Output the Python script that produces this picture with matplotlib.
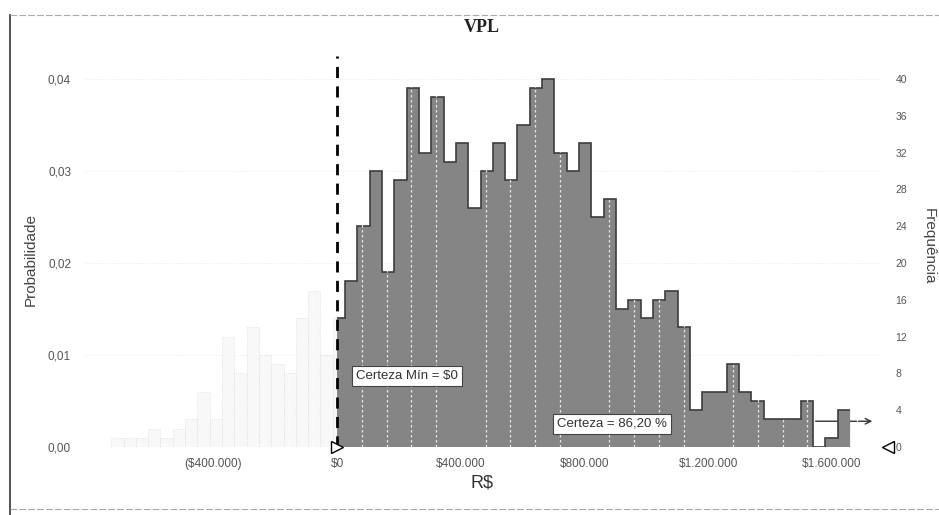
import numpy as np
import matplotlib.pyplot as plt
from matplotlib.lines import Line2D
from matplotlib.ticker import FixedLocator, MultipleLocator

# dados (Crystal Ball, 1000 ensaios)
n_trials = 1000
bin_width = 39800
first_edge = -730300
counts = [1, 1, 1, 2, 1, 2, 3, 6, 3, 12, 8, 13, 10, 9, 8, 14, 17, 10,
          14, 18, 24, 30, 19, 29, 39, 32, 38, 31, 33, 26, 30, 33, 29, 35,
          39, 40, 32, 30, 33, 25, 27, 15, 16, 14, 16, 17, 13, 4, 6, 6, 9,
          6, 5, 3, 3, 3, 5, 0, 1, 4]
cert_min = 0
cert_text = "Certeza = 86,20 %"
cert_min_text = "Certeza Mín = $0"

x_ticks = [-400000, 0, 400000, 800000, 1200000, 1600000]
x_labels = ["($400.000)", "$0", "$400.000", "$800.000", "$1.200.000", "$1.600.000"]
prob_ticks = [0.00, 0.01, 0.02, 0.03, 0.04]
prob_labels = ["0,00", "0,01", "0,02", "0,03", "0,04"]
freq_ticks = list(range(0, 41, 4))

plt.rcParams['font.family'] = ['Liberation Sans', 'DejaVu Sans']

counts = np.array(counts)
edges = first_edge + bin_width * np.arange(len(counts) + 1)
prob = counts / n_trials

fig = plt.figure(figsize=(9.39, 5.15), dpi=100)
ax = fig.add_axes([85 / 939, 1 - 447 / 515, 795 / 939, 391 / 515])
ax2 = ax.twinx()

ytop = 42.5
ax.set_xlim(-815000, 1755000)
ax.set_ylim(0, ytop / n_trials)
ax2.set_ylim(0, ytop)

# barras fora da certeza (claras)
ax.bar(edges[:-1], prob, width=bin_width, align='edge', color='#f8f8f8',
       edgecolor='#d6d6d6', linewidth=0.5, linestyle=':', zorder=1)

# barras dentro da certeza (escuras)
mask = edges[1:] > cert_min
dark_left = np.maximum(edges[:-1][mask], cert_min)
dark_right = edges[1:][mask]
ax.bar(dark_left, prob[mask], width=dark_right - dark_left, align='edge',
       color='#858585', edgecolor='none', zorder=1.2)
ax.stairs(prob[mask], np.r_[dark_left[0], dark_right], color='#3d3d3d',
          linewidth=1.2, baseline=None, zorder=1.3)

# grade
ax.xaxis.set_minor_locator(MultipleLocator(80000))
ax.set_axisbelow(False)
ax.grid(which='minor', axis='x', color='white', linestyle=(0, (2, 2)),
        linewidth=0.9, alpha=0.8)
for p in prob_ticks[1:]:
    ax.axhline(p, color='#e6e6e6', linestyle=':', linewidth=0.6, zorder=0.5)

# linha de certeza minima
ax.axvline(cert_min, color='black', linestyle=(0, (4, 3)), linewidth=2, zorder=3)
ax.plot([cert_min], [0], marker='>', ms=8, mfc='white', mec='black',
        clip_on=False, zorder=4)
ax.plot([1.01], [0], marker='<', ms=8, mfc='white', mec='black',
        transform=ax.transAxes, clip_on=False, zorder=4)
ax.annotate('', xy=(1739000, 2.8 / n_trials), xytext=(1538000, 2.8 / n_trials),
            arrowprops=dict(arrowstyle='->', color='#333333', lw=1), zorder=1.1)

box = dict(boxstyle='square,pad=0.3', fc='white', ec='#444444', lw=0.8)
ax.text(226000, 7.7 / n_trials, cert_min_text, ha='center', va='center',
        fontsize=9.5, color='#333333', bbox=box, zorder=5)
ax.text(889000, 2.5 / n_trials, cert_text, ha='center', va='center',
        fontsize=9.5, color='#333333', bbox=box, zorder=5)

# eixos
ax.xaxis.set_major_locator(FixedLocator(x_ticks))
ax.set_xticklabels(x_labels)
ax.yaxis.set_major_locator(FixedLocator(prob_ticks))
ax.set_yticklabels(prob_labels)
ax2.yaxis.set_major_locator(FixedLocator(freq_ticks))
ax.tick_params(axis='x', which='both', length=0, pad=8, labelsize=8.5,
               labelcolor='#555555')
ax.tick_params(axis='y', length=0, pad=10, labelsize=8.5, labelcolor='#555555')
ax2.tick_params(axis='y', length=0, pad=11, labelsize=7.5, labelcolor='#555555')
for a in (ax, ax2):
    for s in a.spines.values():
        s.set_visible(False)

ax.set_xlabel('R$', fontsize=13, labelpad=3, color='#333333')
fig.text(31 / 939, 1 - 260 / 515, 'Probabilidade', rotation=90, ha='center',
         va='center', fontsize=11, color='#444444')
fig.text(929 / 939, 1 - 246 / 515, 'Frequência', rotation=270, ha='center',
         va='center', fontsize=11, color='#444444')
fig.text(482 / 939, 1 - 28 / 515, 'VPL', ha='center', va='center',
         fontsize=13, fontweight='bold', family='Liberation Serif',
         color='#222222')

# moldura
fig.add_artist(Line2D([10 / 939, 10 / 939], [0, 1 - 15 / 515],
                      transform=fig.transFigure, color='#333333', lw=1.2))
fig.add_artist(Line2D([10 / 939, 1], [1 - 15 / 515, 1 - 15 / 515],
                      transform=fig.transFigure, color='#aaaaaa', lw=0.8,
                      linestyle=(0, (6, 2))))
fig.add_artist(Line2D([10 / 939, 1], [1 - 509 / 515, 1 - 509 / 515],
                      transform=fig.transFigure, color='#aaaaaa', lw=0.8,
                      linestyle=(0, (6, 2))))

fig.savefig('out.png', dpi=100)
